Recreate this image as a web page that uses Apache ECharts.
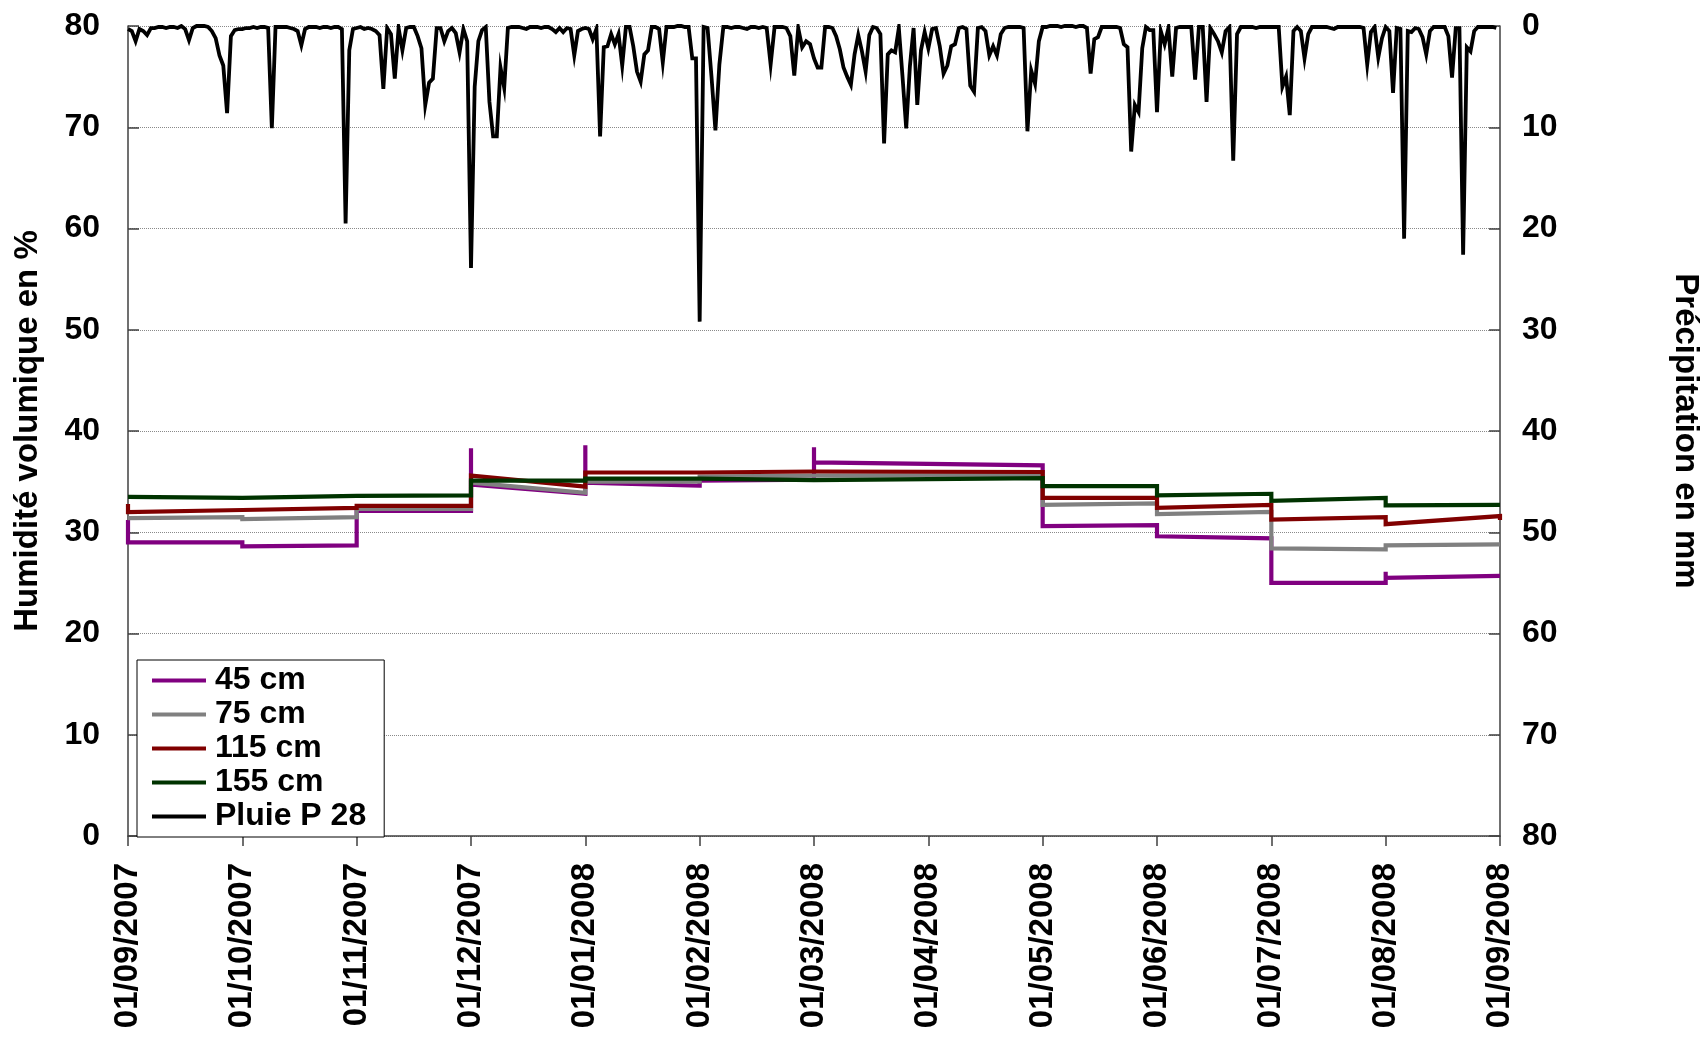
<!DOCTYPE html>
<html>
<head>
<meta charset="utf-8">
<script src="https://cdn.jsdelivr.net/npm/echarts@6/dist/echarts.min.js"></script>
<style>
html,body{margin:0;padding:0;background:#fff;}
#chart{width:1706px;height:1037px;}
</style>
</head>
<body>
<div id="chart"></div>
<script>
// ---- tick labels (x axis: one per month start) ----
const xTickLabels = ['01/09/2007','01/10/2007','01/11/2007','01/12/2007','01/01/2008','01/02/2008','01/03/2008','01/04/2008','01/05/2008','01/06/2008','01/07/2008','01/08/2008','01/09/2008'];
const seriesNames = ['45 cm','75 cm','115 cm','155 cm','Pluie P 28'];

// ---- soil moisture (%), [date, value]; repeated dates = jumps between readings ----
const hum45 = [['2007-09-01',31.2],['2007-09-01',29.0],['2007-10-01',29.0],['2007-10-01',28.6],['2007-11-01',28.7],['2007-11-01',32.1],['2007-12-01',32.1],['2007-12-01',38.3],['2007-12-01',34.7],['2008-01-01',33.8],['2008-01-01',38.6],['2008-01-01',34.9],['2008-02-01',34.6],['2008-02-01',34.4],['2008-02-01',35.1],['2008-03-01',35.2],['2008-03-01',38.4],['2008-03-01',36.9],['2008-05-01',36.6],['2008-05-01',30.6],['2008-06-01',30.7],['2008-06-01',29.6],['2008-07-01',29.4],['2008-07-01',25.0],['2008-08-01',25.0],['2008-08-01',26.1],['2008-08-01',25.5],['2008-09-01',25.7]];
const hum75 = [['2007-09-01',31.4],['2007-10-01',31.5],['2007-10-01',31.3],['2007-11-01',31.5],['2007-11-01',32.3],['2007-12-01',32.3],['2007-12-01',34.9],['2008-01-01',33.9],['2008-01-01',35.0],['2008-02-01',35.0],['2008-02-01',35.5],['2008-03-01',35.6],['2008-03-01',35.7],['2008-05-01',35.65],['2008-05-01',32.7],['2008-06-01',32.85],['2008-06-01',31.8],['2008-07-01',32.0],['2008-07-01',28.4],['2008-08-01',28.3],['2008-08-01',28.7],['2008-09-01',28.8]];
const hum115 = [['2007-09-01',32.8],['2007-09-01',32.0],['2007-10-01',32.2],['2007-11-01',32.4],['2007-11-01',32.6],['2007-12-01',32.6],['2007-12-01',35.6],['2008-01-01',34.5],['2008-01-01',35.9],['2008-02-01',35.9],['2008-03-01',36.0],['2008-03-01',36.1],['2008-05-01',35.95],['2008-05-01',33.4],['2008-06-01',33.4],['2008-06-01',32.4],['2008-07-01',32.7],['2008-07-01',31.25],['2008-08-01',31.5],['2008-08-01',30.8],['2008-09-01',31.6],['2008-09-01',31.2]];
const hum155 = [['2007-09-01',33.5],['2007-10-01',33.4],['2007-11-01',33.6],['2007-12-01',33.65],['2007-12-01',35.1],['2008-01-01',35.1],['2008-01-01',35.3],['2008-02-01',35.3],['2008-03-01',35.15],['2008-05-01',35.35],['2008-05-01',34.55],['2008-06-01',34.55],['2008-06-01',33.65],['2008-07-01',33.8],['2008-07-01',33.1],['2008-08-01',33.4],['2008-08-01',32.65],['2008-09-01',32.7]];

// ---- daily rainfall (mm), one array per month, day 1 .. last day ----
const rainSep2007 = [0.3,0.5,1.5,0.3,0.5,0.9,0.2,0.2,0.1,0.1,0.2,0.1,0.1,0.2,0,0.3,1.4,0.2,0,0,0,0.1,0.5,1.2,2.9,3.9,8.6,1.0,0.4,0.3];
const rainOct2007 = [0.3,0.2,0.2,0.1,0.2,0.1,0.1,0.2,10.1,0.1,0.1,0.1,0.1,0.2,0.3,0.5,1.9,0.3,0.1,0.1,0.1,0.2,0.1,0.1,0.2,0.1,0.1,0.3,19.5,2.4,0.3];
const rainNov2007 = [0.2,0.1,0.3,0.2,0.3,0.5,0.9,6.2,0.2,0.8,5.2,0.2,2.4,0.2,0.1,0.1,1.0,2.2,7.8,5.6,5.2,0.2,0.2,1.5,0.5,0.2,0.7,2.6,0.3,1.5];
const rainDec2007 = [23.9,6.0,1.5,0.4,0.1,7.5,10.9,10.9,4.1,6.1,0.2,0.1,0.1,0.1,0.2,0.3,0.1,0.1,0.1,0.2,0.1,0.1,0.3,0.6,0.2,0.6,0.2,0.3,2.9,0.5,0.3];
const rainJan2008 = [0.2,0.3,1.3,0.3,10.9,2.1,2.0,0.8,1.8,0.8,3.9,0.1,0.1,2.0,4.5,5.5,2.8,2.4,0.1,0.1,0.3,3.6,0.1,0.1,0.1,0,0,0.1,0.1,3.2,3.2];
const rainFeb2008 = [29.2,0.1,0.2,5.0,10.3,3.8,0.1,0.1,0.2,0.1,0.1,0.2,0.3,0.1,0.1,0.2,0.1,0.2,3.8,0.1,0.1,0.1,0.2,1.0,4.9,0.2,2.1,1.5,1.8];
const rainMar2008 = [3.2,4.1,4.1,0.1,0.1,0.2,1.0,2.3,4.1,5.0,5.8,2.8,0.9,2.5,4.5,0.9,0.1,0.2,0.8,11.6,2.8,2.4,2.6,0.2,5.0,10.1,4.0,0.2,7.8,2.4,0.6];
const rainApr2008 = [2.2,0.3,0.2,2.0,4.7,3.9,2.0,1.8,0.2,0.1,0.3,5.9,6.5,0.2,0.1,0.5,2.9,2.0,2.9,0.8,0.2,0.1,0.1,0.1,0.1,0.2,10.4,4.4,5.7,1.5];
const rainMay2008 = [0.1,0.1,0,0,0,0.1,0,0,0,0.1,0,0,0.2,4.7,1.3,1.1,0.1,0.1,0.1,0.1,0.1,0.2,1.8,2.1,12.4,7.8,8.5,2.2,0.1,0.4,0.4];
const rainJun2008 = [8.5,0.5,1.8,0.2,5.0,0.2,0.1,0.1,0.1,0.1,5.3,0.1,0.1,7.5,0.2,0.8,1.5,2.6,0.5,0.1,13.3,0.8,0.1,0.1,0.1,0.1,0.2,0.1,0.1,0.1];
const rainJul2008 = [0.1,0.1,0.1,6.0,5.0,8.8,0.5,0.1,0.5,3.2,0.8,0.1,0.1,0.1,0.1,0.1,0.2,0.3,0.1,0.1,0.1,0.1,0.1,0.1,0.1,0.2,3.8,0.6,0.1,3.1,1.2];
const rainAug2008 = [0.1,0.5,6.6,0.2,0.3,21.0,0.5,0.6,0.2,0.3,1.1,2.8,0.5,0.1,0.1,0.1,0.1,1.0,5.1,0.2,0.2,22.6,2.1,2.5,0.5,0.1,0.1,0.1,0.1,0.1,0.2];
const rainMonths = [rainSep2007,rainOct2007,rainNov2007,rainDec2007,rainJan2008,rainFeb2008,rainMar2008,rainApr2008,rainMay2008,rainJun2008,rainJul2008,rainAug2008];

// axis position: one unit per month (months are equally spaced on the axis)
function monthPos(s){
  const p = s.split('-').map(Number);
  const mi = (p[0]-2007)*12 + (p[1]-1) - 8;
  const dim = new Date(p[0], p[1], 0).getDate();
  return mi + (p[2]-1)/dim;
}
const toXY = arr => arr.map(d => [monthPos(d[0]), d[1]]);
const rainData = [];
rainMonths.forEach((arr, m) => arr.forEach((v, d) => rainData.push([m + d/arr.length, v])));

const FONT = '"Liberation Sans", Arial, Helvetica, sans-serif';
const axisCol = '#404040';
const colors = ['#800080','#808080','#800000','#003300','#000000'];

const chart = echarts.init(document.getElementById('chart'), null, {renderer:'canvas'});
const mkLine = (name, data, color, yIdx, w) => ({
  name, type:'line', data, xAxisIndex:0, yAxisIndex:yIdx,
  showSymbol:false, symbol:'none', smooth:false,
  lineStyle:{color, width:w, join:'miter'}, itemStyle:{color},
  emphasis:{disabled:true}
});

chart.setOption({
  animation:false,
  backgroundColor:'#ffffff',
  textStyle:{fontFamily:FONT},
  grid:{left:128, right:206, top:26, bottom:201, containLabel:false, outerBoundsMode:'none'},
  legend:{
    show:true, orient:'vertical', left:137, top:660,
    data:seriesNames, icon:'rect', itemWidth:54, itemHeight:4, itemGap:1,
    padding:[4,18,4,15], borderColor:'#000', borderWidth:1, backgroundColor:'#fff',
    textStyle:{fontFamily:FONT, fontWeight:'bold', fontSize:32, color:'#000', lineHeight:33, padding:[0,0,0,4]},
    selectedMode:false
  },
  xAxis:{
    type:'value', min:0, max:12, interval:1,
    axisLine:{show:true, onZero:false, lineStyle:{color:axisCol, width:1.5}},
    axisTick:{show:true, inside:false, length:10, lineStyle:{color:axisCol, width:1.5}},
    splitLine:{show:false},
    axisLabel:{show:true, rotate:90, margin:27, fontFamily:FONT, fontWeight:'bold', fontSize:33, color:'#000',
      formatter: v => xTickLabels[Math.round(v)] || ''}
  },
  yAxis:[{
    type:'value', min:0, max:80, interval:10, position:'left',
    name:'Humidité volumique en %', nameLocation:'middle', nameRotate:90, nameGap:84,
    nameTextStyle:{fontFamily:FONT, fontWeight:'bold', fontSize:33, color:'#000'},
    axisLine:{show:true, lineStyle:{color:axisCol, width:1.5}},
    axisTick:{show:true, inside:true, length:11, lineStyle:{color:axisCol, width:1.5}},
    splitLine:{show:true, lineStyle:{color:'#8a8a8a', width:1, type:'dotted'}},
    axisLabel:{margin:28, fontFamily:FONT, fontWeight:'bold', fontSize:32, color:'#000'}
  },{
    type:'value', min:0, max:80, interval:10, position:'right', inverse:true,
    name:'Précipitation en mm', nameLocation:'middle', nameRotate:-90, nameGap:169,
    nameTextStyle:{fontFamily:FONT, fontWeight:'bold', fontSize:33, color:'#000'},
    axisLine:{show:true, lineStyle:{color:axisCol, width:1.5}},
    axisTick:{show:true, inside:true, length:11, lineStyle:{color:axisCol, width:1.5}},
    splitLine:{show:false},
    axisLabel:{margin:22, fontFamily:FONT, fontWeight:'bold', fontSize:32, color:'#000', align:'left'}
  }],
  series:[
    mkLine(seriesNames[0], toXY(hum45), colors[0], 0, 4.2),
    mkLine(seriesNames[1], toXY(hum75), colors[1], 0, 4.2),
    mkLine(seriesNames[2], toXY(hum115), colors[2], 0, 4.2),
    mkLine(seriesNames[3], toXY(hum155), colors[3], 0, 4.2),
    mkLine(seriesNames[4], rainData, colors[4], 1, 3.8)
  ]
});
</script>
</body>
</html>
